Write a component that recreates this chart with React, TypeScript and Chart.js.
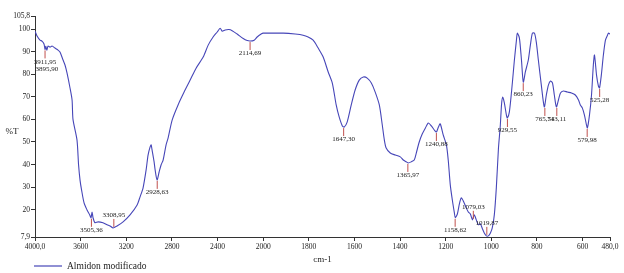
import React, { useEffect, useRef } from "react";
import { Chart, registerables } from "chart.js";

Chart.register(...registerables);

// ---- Data (wavenumber in cm-1, transmittance in %T) ----
const wavenumbers = [
  4000, 3982, 3956, 3939, 3921, 3912, 3905, 3896, 3886, 3868, 3851, 3825, 3798, 3781, 3754, 3737, 3719, 3693, 3675, 3667,
  3632, 3618, 3605, 3592, 3570, 3544, 3520, 3509, 3500, 3491, 3474, 3447, 3404, 3368, 3342, 3316, 3281, 3228, 3167, 3105,
  3079, 3053, 3026, 3009, 2991, 2982, 2974, 2956, 2947, 2930, 2912, 2895, 2877, 2851, 2833, 2798, 2746, 2693, 2640, 2588,
  2526, 2482, 2439, 2403, 2377, 2360, 2333, 2300, 2272, 2228, 2175, 2140, 2114, 2079, 2053, 2018, 2000,
  1969, 1912, 1860, 1825, 1803, 1781, 1759, 1737, 1715, 1697, 1680, 1667, 1653, 1645, 1632, 1614, 1597, 1579, 1561, 1544,
  1526, 1509, 1491, 1478, 1469, 1461, 1443, 1421, 1399, 1386, 1373, 1364, 1351, 1338, 1329, 1316, 1303, 1289, 1276, 1263,
  1250, 1241, 1232, 1224, 1211, 1197, 1189, 1180, 1171, 1162, 1158, 1149, 1140, 1132, 1123, 1110, 1101, 1092, 1083, 1075,
  1066, 1057, 1048, 1039, 1031, 1022, 1013, 1004, 996, 987, 978, 969, 961, 955, 950, 943, 934, 930, 921, 908,
  899, 890, 886, 877, 868, 860, 851, 838, 829, 820, 811, 803, 794, 781, 768, 759, 750, 741, 732, 724,
  715, 706, 697, 684, 667, 649, 632, 618, 610, 601, 592, 583, 579, 570, 561, 553, 548, 539, 531, 526,
  518, 509, 500, 491, 487, 480,
];

const transmittance = [
  99.1, 96.9, 95.1, 94.7, 93.4, 91.0, 92.4, 90.6, 92.5, 92.0, 92.5, 91.6, 90.7, 89.8, 86.3, 84.1, 80.5, 73.9, 68.6, 60.0,
  50.9, 39.8, 33.0, 28.8, 23.0, 19.9, 17.7, 16.4, 19.0, 16.4, 14.2, 14.6, 14.2, 13.3, 12.8, 11.9, 12.8, 14.6, 17.7, 22.1,
  25.7, 29.6, 37.6, 44.2, 47.8, 48.7, 46.5, 41.2, 37.6, 33.2, 36.7, 39.8, 42.0, 48.7, 51.8, 59.7, 66.4, 72.1, 77.4, 82.7,
  87.6, 92.9, 96.5, 98.7, 100.4, 99.1, 99.6, 99.8, 99.3, 97.8, 95.8, 94.9, 94.7, 95.1, 96.5, 97.8, 98.2,
  98.2, 98.2, 97.8, 97.3, 96.5, 95.1, 91.6, 87.6, 81.0, 76.1, 66.4, 61.1, 57.1, 56.6, 58.8, 66.4, 73.0, 77.4, 78.8, 78.3,
  76.1, 72.1, 66.4, 57.5, 50.9, 47.3, 45.1, 44.2, 43.4, 42.0, 41.2, 40.7, 41.2, 42.0, 45.1, 50.0, 53.5, 56.2, 58.4, 57.1,
  55.3, 54.4, 56.6, 58.0, 53.1, 48.7, 42.0, 31.0, 24.3, 18.6, 16.4, 18.1, 22.6, 25.2, 23.9, 20.8, 19.0, 18.1, 15.5, 17.7,
  15.5, 13.3, 13.7, 11.5, 9.7, 8.4, 8.4, 9.7, 11.9, 17.7, 30.0, 47.0, 57.0, 67.0, 69.9, 67.3, 61.9, 60.6, 63.3, 76.1,
  86.3, 95.1, 98.2, 96.0, 86.3, 76.5, 81.0, 86.3, 92.9, 98.2, 98.2, 94.2, 86.3, 75.2, 65.5, 70.8, 75.2, 77.0, 76.1, 70.8,
  65.5, 68.6, 71.7, 72.6, 72.1, 71.7, 70.8, 68.6, 66.4, 65.0, 61.9, 57.5, 56.2, 61.9, 70.8, 84.1, 88.5, 79.6, 74.8, 73.9,
  79.6, 88.5, 95.1, 97.3, 98.2, 97.8,
];

const peakWavenumbers = [
  3911.95, 3895.9, 3505.36, 3308.95, 2928.63, 2114.69, 1647.3, 1365.97, 1240.88, 1158.62, 1079.03, 1019.87,
  929.55, 860.23, 765.54, 713.11, 579.98, 525.28,
];
const peakLabels = [
  "3911,95", "3895,90", "3505,36", "3308,95", "2928,63", "2114,69", "1647,30", "1365,97", "1240,88", "1158,62",
  "1079,03", "1019,87", "929,55", "860,23", "765,54", "713,11", "579,98", "525,28",
];

const xTickValues = [4000, 3600, 3200, 2800, 2400, 2000, 1800, 1600, 1400, 1200, 1000, 800, 600, 480];
const xTickLabels = ["4000,0", "3600", "3200", "2800", "2400", "2000", "1800", "1600", "1400", "1200", "1000", "800", "600", "480,0"];
const yTickValues = [7.9, 20, 30, 40, 50, 60, 70, 80, 90, 100, 105.8];
const yTickLabels = ["7,9", "20", "30", "40", "50", "60", "70", "80", "90", "100", "105,8"];

const seriesName = "Almidon modificado";
const xTitle = "cm-1";
const yTitle = "%T";

// The spectrometer plot doubles its scale below 2000 cm-1.
const toAxis = (wn: number) => (wn >= 2000 ? (4000 - wn) / 2 : 1000 + (2000 - wn));

const SERIF = "'Liberation Serif', 'Times New Roman', serif";
const LINE_COLOR = "#4646b8";
const MARK_COLOR = "#c0504d";
const TEXT_COLOR = "#222";

const labelsAbove = new Set(["3308,95", "1079,03", "1019,87"]);

const nearestIndex = (wn: number) => {
  let best = 0;
  for (let j = 1; j < wavenumbers.length; j++) {
    if (Math.abs(wavenumbers[j] - wn) < Math.abs(wavenumbers[best] - wn)) best = j;
  }
  return best;
};

const peakPlugin = {
  id: "peakMarks",
  afterDatasetsDraw(chart: any) {
    const { ctx } = chart;
    const xs = chart.scales.x;
    const ys = chart.scales.y;
    ctx.save();
    ctx.font = `7px ${SERIF}`;
    ctx.textAlign = "center";
    ctx.lineWidth = 1;
    let prevX = -1000;
    let stacked = 0;
    peakWavenumbers.forEach((wn, i) => {
      const px = xs.getPixelForValue(toAxis(wn));
      const py = ys.getPixelForValue(transmittance[nearestIndex(wn)]);
      const label = peakLabels[i];
      stacked = Math.abs(px - prevX) < 6 ? stacked + 1 : 0;
      prevX = px;
      ctx.fillStyle = TEXT_COLOR;
      if (labelsAbove.has(label)) {
        ctx.strokeStyle = MARK_COLOR;
        ctx.beginPath();
        ctx.moveTo(px, py - 1);
        ctx.lineTo(px, py - 9);
        ctx.stroke();
        ctx.textBaseline = "bottom";
        ctx.fillText(label, px, py - 9);
      } else if (stacked === 0) {
        ctx.strokeStyle = MARK_COLOR;
        ctx.beginPath();
        ctx.moveTo(px, py + 1);
        ctx.lineTo(px, py + 9);
        ctx.stroke();
        ctx.textBaseline = "top";
        ctx.fillText(label, px, py + 9);
      } else {
        const py0 = ys.getPixelForValue(transmittance[nearestIndex(peakWavenumbers[i - stacked])]);
        ctx.textBaseline = "top";
        ctx.fillText(label, px, py0 + 9 + 7 * stacked);
      }
    });
    ctx.restore();
  },
};

const decorPlugin = {
  id: "decor",
  afterDraw(chart: any) {
    const { ctx, chartArea } = chart;
    ctx.save();
    ctx.fillStyle = TEXT_COLOR;
    ctx.font = `9px ${SERIF}`;
    ctx.textAlign = "center";
    ctx.textBaseline = "middle";
    ctx.fillText(xTitle, (chartArea.left + chartArea.right) / 2, 260);
    ctx.fillText(yTitle, 12, (chartArea.top + chartArea.bottom) / 2 + 5);
    // legend
    ctx.strokeStyle = LINE_COLOR;
    ctx.lineWidth = 1.2;
    ctx.beginPath();
    ctx.moveTo(34, 266);
    ctx.lineTo(62, 266);
    ctx.stroke();
    ctx.font = `9.5px ${SERIF}`;
    ctx.textAlign = "left";
    ctx.fillText(seriesName, 67, 266);
    ctx.restore();
  },
};

export default function App() {
  const canvasRef = useRef<HTMLCanvasElement | null>(null);

  useEffect(() => {
    if (!canvasRef.current) return;
    const points = wavenumbers.map((wn, i) => ({ x: toAxis(wn), y: transmittance[i] }));
    const tickFont = { family: SERIF, size: 7.5 };
    const chart = new Chart(canvasRef.current, {
      type: "line",
      data: {
        datasets: [
          {
            label: seriesName,
            data: points,
            borderColor: LINE_COLOR,
            backgroundColor: LINE_COLOR,
            borderWidth: 1.1,
            pointRadius: 0,
            tension: 0.25,
            fill: false,
          },
        ],
      },
      options: {
        animation: false,
        responsive: true,
        maintainAspectRatio: false,
        layout: { padding: { top: 16, right: 14, bottom: 16, left: 0 } },
        plugins: {
          legend: { display: false },
          tooltip: { enabled: false },
        },
        scales: {
          x: {
            type: "linear",
            min: 0,
            max: toAxis(480),
            afterBuildTicks: (s: any) => {
              s.ticks = xTickValues.map((v) => ({ value: toAxis(v) }));
            },
            afterFit: (s: any) => {
              s.height = 20;
            },
            ticks: {
              autoSkip: false,
              maxRotation: 0,
              minRotation: 0,
              padding: 2,
              color: TEXT_COLOR,
              font: tickFont,
              callback: (_v: any, i: number) => xTickLabels[i],
            },
            grid: { display: true, drawOnChartArea: false, drawTicks: true, tickLength: 4, color: "#333" },
            border: { display: true, color: "#333", width: 1 },
          },
          y: {
            type: "linear",
            min: 7.9,
            max: 105.8,
            afterBuildTicks: (s: any) => {
              s.ticks = yTickValues.map((v) => ({ value: v }));
            },
            afterFit: (s: any) => {
              s.width = 35;
            },
            ticks: {
              autoSkip: false,
              padding: 1,
              color: TEXT_COLOR,
              font: tickFont,
              callback: (_v: any, i: number) => yTickLabels[i],
            },
            grid: { display: true, drawOnChartArea: false, drawTicks: true, tickLength: 4, color: "#333" },
            border: { display: true, color: "#333", width: 1 },
          },
        },
      },
      plugins: [peakPlugin, decorPlugin],
    });
    return () => chart.destroy();
  }, []);

  return (
    <div style={{ position: "fixed", left: 0, top: 0, width: 624, height: 273, background: "#fff" }}>
      <canvas ref={canvasRef} />
    </div>
  );
}
